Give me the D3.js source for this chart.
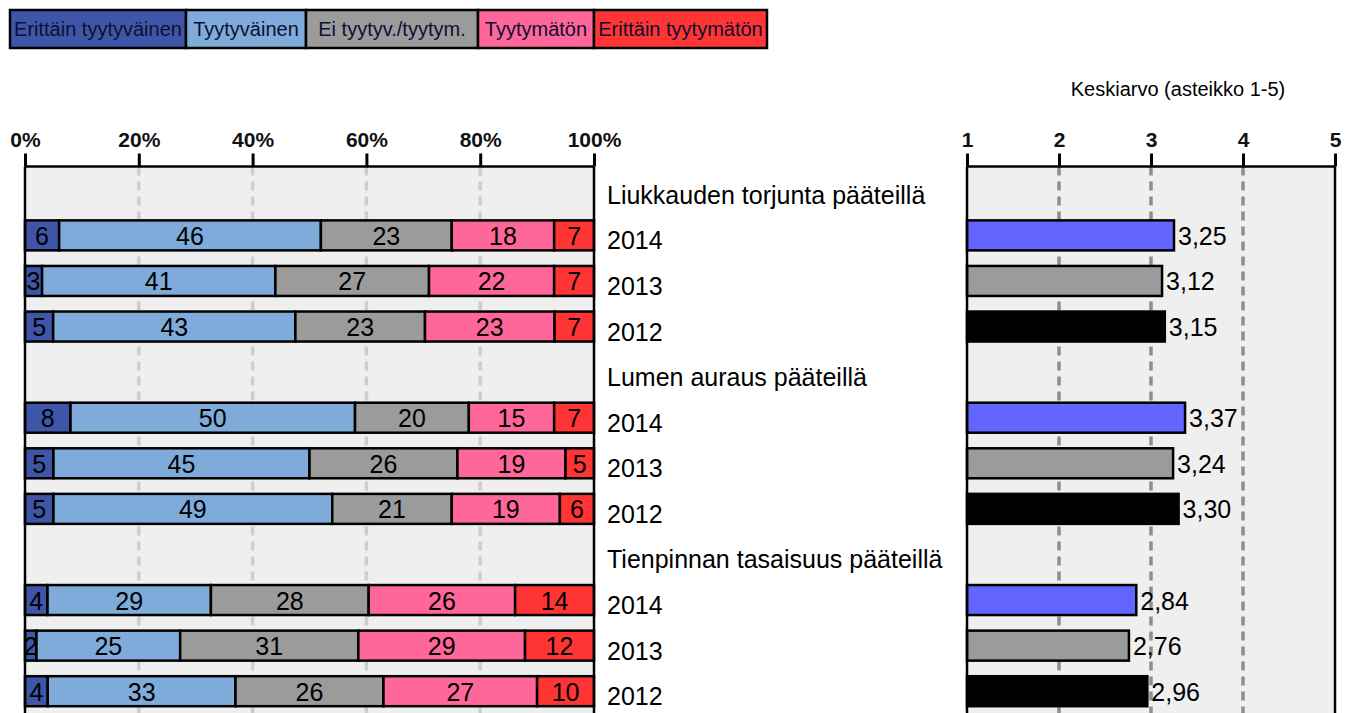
<!DOCTYPE html>
<html>
<head>
<meta charset="utf-8">
<script src="https://cdn.jsdelivr.net/npm/d3@7"></script>
<style>
  body { margin: 0; background: #fff; }
  text { font-family: "Liberation Sans", Arial, sans-serif; }
</style>
</head>
<body>
<div id="chart"></div>
<script>
// ==== Data ====
const groups = ["Liukkauden torjunta pääteillä", "Lumen auraus pääteillä", "Tienpinnan tasaisuus pääteillä"];
const years = ["2014", "2013", "2012"];
const levels = ["Erittäin tyytyväinen", "Tyytyväinen", "Ei tyytyv./tyytym.", "Tyytymätön", "Erittäin tyytymätön"];

// shares per group, per year (2014, 2013, 2012)
const liukkaus = [[6, 46, 23, 18, 7], [3, 41, 27, 22, 7], [5, 43, 23, 23, 7]];
const lumi     = [[8, 50, 20, 15, 7], [5, 45, 26, 19, 5], [5, 49, 21, 19, 6]];
const tasaisuus = [[4, 29, 28, 26, 14], [2, 25, 31, 29, 12], [4, 33, 26, 27, 10]];

const meanLiukkaus = [3.25, 3.12, 3.15];
const meanLumi = [3.37, 3.24, 3.30];
const meanTasaisuus = [2.84, 2.76, 2.96];

const pctTicks = [0, 20, 40, 60, 80, 100];
const meanTicks = [1, 2, 3, 4, 5];

// ==== Styles ====
const levelColors = ["#3f56a8", "#7eabda", "#9b9b9b", "#ff6699", "#ff3434"];
const yearColors = ["#6464ff", "#9b9b9b", "#000000"];
const legendEdges = [10, 186, 306, 478, 594, 767];

const width = 1346, height = 713;
const svg = d3.select("#chart").append("svg")
  .attr("width", width)
  .attr("height", height);

// build rows: group header then the three years
const shareSets = [liukkaus, lumi, tasaisuus];
const meanSets = [meanLiukkaus, meanLumi, meanTasaisuus];
const rows = [];
groups.forEach((g, gi) => {
  rows.push({ kind: "group", label: g });
  years.forEach((yr, yi) => {
    rows.push({ kind: "year", label: yr, yi: yi, shares: shareSets[gi][yi], mean: meanSets[gi][yi] });
  });
});

const axisY = 166.5;
const y = d3.scaleBand().domain(d3.range(rows.length)).range([167, 714]);
const barH = 30;

const xPct = d3.scaleLinear().domain([0, 100]).range([25, 594]);
const xMean = d3.scaleLinear().domain([1, 5]).range([967, 1335]);

// ==== Panels ====
function panel(x0, x1, ticks, scale, gridColor, gridWidth) {
  const g = svg.append("g");
  g.append("rect")
    .attr("x", x0).attr("y", axisY)
    .attr("width", x1 - x0).attr("height", height - axisY + 5)
    .attr("fill", "#efefef");
  g.selectAll(".grid").data(ticks.slice(1, -1)).join("line")
    .attr("x1", d => scale(d)).attr("x2", d => scale(d))
    .attr("y1", axisY).attr("y2", height)
    .attr("stroke", gridColor).attr("stroke-width", gridWidth)
    .attr("stroke-dasharray", "9,6");
  return g;
}

function frame(x0, x1, ticks, scale, fmt) {
  const g = svg.append("g");
  g.append("line").attr("x1", x0).attr("x2", x0).attr("y1", axisY).attr("y2", height)
    .attr("stroke", "#000").attr("stroke-width", 2.5);
  g.append("line").attr("x1", x1).attr("x2", x1).attr("y1", axisY).attr("y2", height)
    .attr("stroke", "#000").attr("stroke-width", 2.5);
  const ax = d3.axisTop(scale).tickValues(ticks).tickSize(13).tickFormat(fmt);
  const a = g.append("g").attr("transform", `translate(0,${axisY})`).call(ax)
    .attr("font-size", null).attr("font-family", null);
  a.select(".domain").attr("stroke", "#000").attr("stroke-width", 2.5)
    .attr("d", `M${x0},0H${x1}`);
  a.selectAll(".tick line").attr("stroke", "#000").attr("stroke-width", 3);
  a.selectAll(".tick text")
    .attr("y", -20).attr("dy", 0)
    .style("font-size", "21px").style("font-weight", "bold")
    .attr("fill", "#111");
}

panel(25, 594, pctTicks, xPct, "#cdcdcd", 3.5);
panel(967, 1335, meanTicks, xMean, "#8e8e8e", 3.5);

// ==== Stacked bars ====
const defs = svg.append("defs");
const left = svg.append("g");
rows.forEach((r, ri) => {
  if (r.kind !== "year") return;
  const total = d3.sum(r.shares);
  let acc = 0;
  const cy = y(ri) + y.bandwidth() / 2;
  r.shares.forEach((v, li) => {
    const x0 = xPct(acc / total * 100);
    acc += v;
    const x1 = xPct(acc / total * 100);
    const id = `clip-${ri}-${li}`;
    defs.append("clipPath").attr("id", id).append("rect")
      .attr("x", x0).attr("y", cy - barH / 2).attr("width", x1 - x0).attr("height", barH);
    left.append("rect")
      .attr("x", x0).attr("y", cy - barH / 2)
      .attr("width", x1 - x0).attr("height", barH)
      .attr("fill", levelColors[li])
      .attr("stroke", "#000").attr("stroke-width", 2.5);
    left.append("text")
      .attr("clip-path", `url(#${id})`)
      .attr("x", (x0 + x1) / 2).attr("y", cy + 9.5)
      .attr("text-anchor", "middle")
      .attr("font-size", 25)
      .attr("fill", "#000")
      .text(v);
  });
});

// ==== Mean bars ====
const right = svg.append("g");
rows.forEach((r, ri) => {
  if (r.kind !== "year") return;
  const cy = y(ri) + y.bandwidth() / 2;
  right.append("rect")
    .attr("x", xMean(1)).attr("y", cy - barH / 2)
    .attr("width", xMean(r.mean) - xMean(1)).attr("height", barH)
    .attr("fill", yearColors[r.yi])
    .attr("stroke", "#000").attr("stroke-width", 2.5);
  right.append("text")
    .attr("x", xMean(r.mean) + 4).attr("y", cy + 9.5)
    .attr("font-size", 25)
    .attr("fill", "#000")
    .text(d3.format(".2f")(r.mean).replace(".", ","));
});

frame(25, 594, pctTicks, xPct, d => d + "%");
frame(967, 1335, meanTicks, xMean, d => d);

// ==== Row labels ====
svg.append("g").selectAll("text").data(rows).join("text")
  .attr("x", 607)
  .attr("y", (d, i) => y(i) + y.bandwidth() / 2 + 14)
  .attr("font-size", 25)
  .attr("fill", "#000")
  .text(d => d.label);

// ==== Title for means ====
svg.append("text")
  .attr("x", 1178).attr("y", 96)
  .attr("text-anchor", "middle")
  .attr("font-size", 20)
  .attr("fill", "#000")
  .text("Keskiarvo (asteikko 1-5)");

// ==== Legend ====
const legend = svg.append("g");
levels.forEach((name, i) => {
  const x0 = legendEdges[i], x1 = legendEdges[i + 1];
  legend.append("rect")
    .attr("x", x0).attr("y", 10)
    .attr("width", x1 - x0).attr("height", 38)
    .attr("fill", levelColors[i])
    .attr("stroke", "#000").attr("stroke-width", 2.5);
  legend.append("text")
    .attr("x", (x0 + x1) / 2).attr("y", 36)
    .attr("text-anchor", "middle")
    .attr("font-size", 20)
    .attr("fill", "#0d1030")
    .text(name);
});
</script>
</body>
</html>
